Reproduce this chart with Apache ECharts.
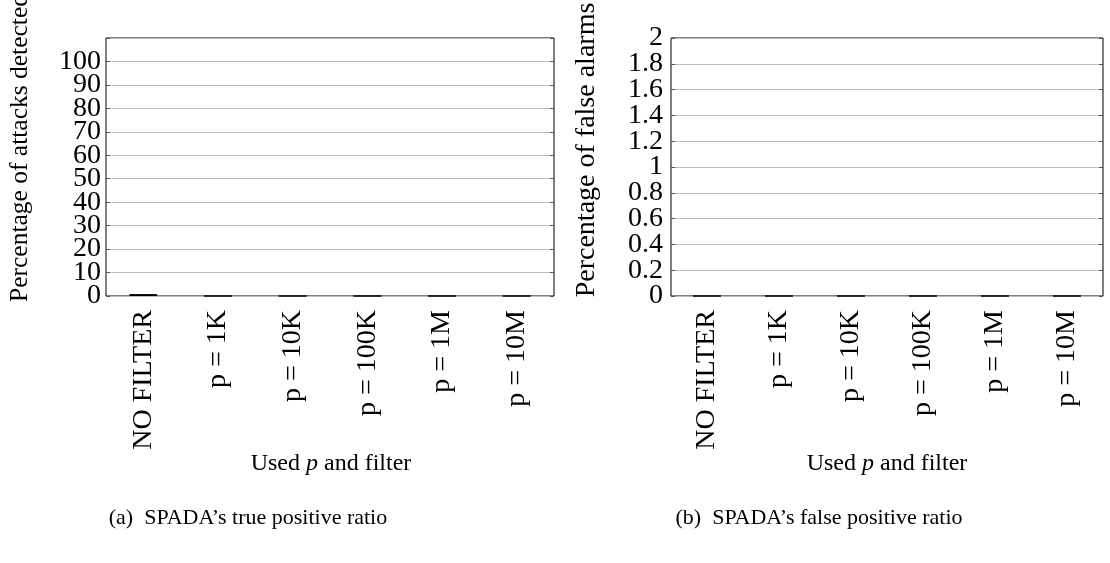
<!DOCTYPE html>
<html><head><meta charset="utf-8">
<script src="https://cdn.jsdelivr.net/npm/echarts@6/dist/echarts.min.js"></script>
<style>html,body{margin:0;padding:0;background:#fff}#c{width:1110px;height:563px}</style>
</head><body><div id="c"></div>
<script>
const categories = ['NO FILTER', 'p = 1K', 'p = 10K', 'p = 100K', 'p = 1M', 'p = 10M'];
const truePositive = [0.8, 0, 0, 0, 0, 0];
const falsePositive = [0, 0, 0, 0, 0, 0];
const leftTicks = [0, 10, 20, 30, 40, 50, 60, 70, 80, 90, 100];
const rightTicks = [0, 0.2, 0.4, 0.6, 0.8, 1, 1.2, 1.4, 1.6, 1.8, 2];

const FONT = '"Liberation Serif", "DejaVu Serif", serif';
const chart = echarts.init(document.getElementById('c'), null, {renderer: 'canvas'});

const grids = [
  {left: 106, top: 38, width: 448, height: 258, show: true, borderColor: '#000', borderWidth: 1, backgroundColor: 'transparent', outerBoundsMode: 'none', containLabel: false},
  {left: 671, top: 38, width: 432, height: 258, show: true, borderColor: '#000', borderWidth: 1, backgroundColor: 'transparent', outerBoundsMode: 'none', containLabel: false}
];

function xAxis(gi) {
  return {
    type: 'category', gridIndex: gi, data: categories,
    axisLine: {show: false}, axisTick: {show: false},
    axisLabel: {rotate: 90, fontFamily: FONT, fontSize: 28, color: '#000', margin: 14, interval: 0}
  };
}
// parity: 0 -> labels at even tick indices, 1 -> odd tick indices (split to avoid overlap-hiding)
function yAxis(gi, max, interval, ticks, fmt, margin, parity, main) {
  return {
    type: 'value', gridIndex: gi, min: 0, max: max, interval: interval, position: 'left', offset: 0,
    axisLine: {show: false},
    axisTick: {show: main, inside: true, length: 4, lineStyle: {color: '#555'}},
    splitLine: {show: main, lineStyle: {color: '#bdbdbd', width: 1}},
    axisLabel: {
      fontFamily: FONT, fontSize: 28, color: '#000', margin: margin,
      showMinLabel: true, showMaxLabel: true,
      formatter: v => {
        const i = ticks.findIndex(t => Math.abs(t - v) < 1e-9);
        return (i < 0 || i % 2 !== parity) ? '' : fmt(ticks[i]);
      }
    }
  };
}
function yAxisRight(gi, max, interval) {
  return {
    type: 'value', gridIndex: gi, min: 0, max: max, interval: interval, position: 'right', offset: 0,
    axisLine: {show: false}, axisLabel: {show: false}, splitLine: {show: false},
    axisTick: {show: true, inside: true, length: 4, lineStyle: {color: '#555'}}
  };
}
const fmtL = v => String(v);
const fmtR = v => String(Math.round(v * 10) / 10);

const option = {
  animation: false,
  grid: grids,
  xAxis: [xAxis(0), xAxis(1)],
  yAxis: [
    yAxis(0, 110, 10, leftTicks, fmtL, 5, 0, true),
    yAxis(0, 110, 10, leftTicks, fmtL, 5, 1, false),
    yAxis(1, 2, 0.2, rightTicks, fmtR, 8, 0, true),
    yAxis(1, 2, 0.2, rightTicks, fmtR, 8, 1, false),
    yAxisRight(0, 110, 10),
    yAxisRight(1, 2, 0.2)
  ],
  series: [
    {type: 'bar', xAxisIndex: 0, yAxisIndex: 0, data: truePositive, barWidth: 28,
     itemStyle: {color: '#2a2a2a', borderColor: '#000', borderWidth: 1}},
    {type: 'bar', xAxisIndex: 1, yAxisIndex: 2, data: falsePositive, barWidth: 28,
     itemStyle: {color: '#2a2a2a', borderColor: '#000', borderWidth: 1}}
  ],
  graphic: [
    {type: 'text', x: 20, y: 148, rotation: Math.PI / 2,
     style: {text: 'Percentage of attacks detected', font: '25.5px ' + FONT, fill: '#000', align: 'center', verticalAlign: 'middle'}},
    {type: 'text', x: 587, y: 150, rotation: Math.PI / 2,
     style: {text: 'Percentage of false alarms', font: '28px ' + FONT, fill: '#000', align: 'center', verticalAlign: 'middle'}},
    {type: 'text', x: 331, y: 464,
     style: {text: 'Used {i|p} and filter', font: '24px ' + FONT, fill: '#000', align: 'center', verticalAlign: 'middle',
             rich: {i: {fontStyle: 'italic', fontFamily: FONT, fontSize: 24}}}},
    {type: 'text', x: 887, y: 464,
     style: {text: 'Used {i|p} and filter', font: '24px ' + FONT, fill: '#000', align: 'center', verticalAlign: 'middle',
             rich: {i: {fontStyle: 'italic', fontFamily: FONT, fontSize: 24}}}},
    {type: 'text', x: 248, y: 518,
     style: {text: '(a)  SPADA\u2019s true positive ratio', font: '22px ' + FONT, fill: '#000', align: 'center', verticalAlign: 'middle'}},
    {type: 'text', x: 819, y: 518,
     style: {text: '(b)  SPADA\u2019s false positive ratio', font: '22px ' + FONT, fill: '#000', align: 'center', verticalAlign: 'middle'}}
  ]
};
chart.setOption(option);
</script></body></html>
